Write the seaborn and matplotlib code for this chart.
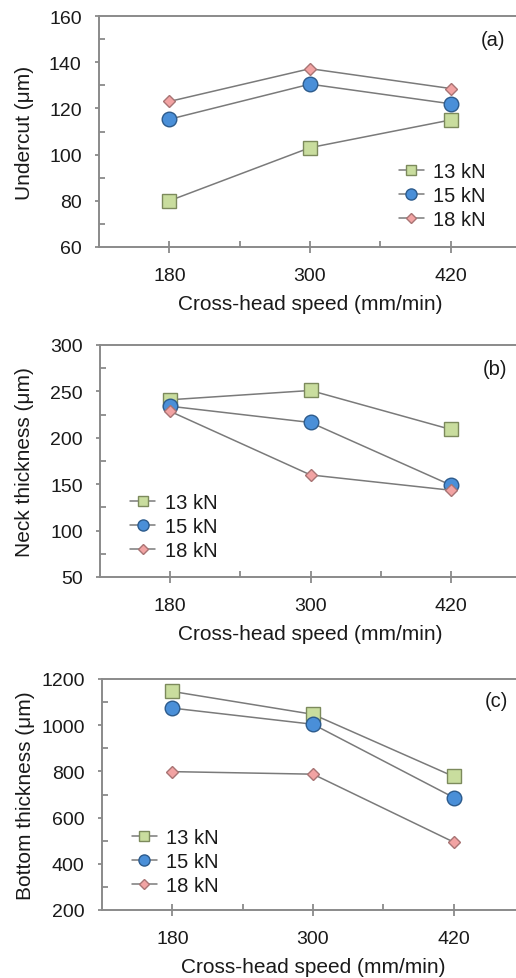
import numpy as np
import pandas as pd
import matplotlib
matplotlib.use("Agg")
import matplotlib.pyplot as plt
from matplotlib.ticker import MultipleLocator, FixedLocator
import seaborn as sns

sns.set_style("white")
plt.rcParams['font.family'] = ['Liberation Sans', 'DejaVu Sans']

speeds = [180, 300, 420]
loads = ["13 kN", "15 kN", "18 kN"]

undercut_13 = [80, 103, 115]
undercut_15 = [115.3, 130.5, 122]
undercut_18 = [123, 137.2, 128.6]

neck_13 = [241, 251, 209]
neck_15 = [234, 216.5, 149]
neck_18 = [228.5, 160, 143.5]

bottom_13 = [1146, 1047, 778]
bottom_15 = [1074, 1004, 687]
bottom_18 = [799, 788, 494]

ylabels = ["Undercut (\u03bcm)", "Neck thickness (\u03bcm)", "Bottom thickness (\u03bcm)"]
panel_tags = ["(a)", "(b)", "(c)"]
xlabel = "Cross-head speed (mm/min)"

panels = [
    [undercut_13, undercut_15, undercut_18],
    [neck_13, neck_15, neck_18],
    [bottom_13, bottom_15, bottom_18],
]

W, H = 516, 979
fig = plt.figure(figsize=(W / 100, H / 100), dpi=100)

# axes pixel boxes: left, top, right, bottom
boxes = [(99, 17, 521, 248), (100, 346, 521, 578), (102, 680, 524, 911)]
ylims = [(60, 160), (50, 300), (200, 1200)]
ymaj = [20, 50, 200]
legend_pos = [(0.71, 0.368), (0.072, 0.363), (0.07, 0.355)]
tag_pos = [(0.934, 0.90), (0.938, 0.90), (0.934, 0.905)]
ylabel_x = [-0.154, -0.157, -0.159]

styles = {
    "13 kN": dict(marker="s", mfc="#c9dd9e", mec="#7c8a5c", ms=10.5, lms=7),
    "15 kN": dict(marker="o", mfc="#4a8fd8", mec="#2d5b8c", ms=10.5, lms=8),
    "18 kN": dict(marker="D", mfc="#f2a3a3", mec="#a87474", ms=6.2, lms=4.6),
}

spine_c = "#8a8a8a"
text_c = "#1a1a1a"
fs = 14

for i, (vals, box) in enumerate(zip(panels, boxes)):
    l, t, r, b = box
    ax = fig.add_axes([l / W, 1 - b / H, (r - l) / W, (b - t) / H])
    df = pd.DataFrame({
        "speed": np.tile(speeds, 3),
        "value": np.concatenate(vals),
        "load": np.repeat(loads, 3),
    })
    for ld in loads:
        sub = df[df["load"] == ld]
        st = styles[ld]
        sns.lineplot(data=sub, x="speed", y="value", ax=ax, color="#7a7a7a",
                     lw=1.1, marker=st["marker"], markersize=st["ms"],
                     markerfacecolor=st["mfc"], markeredgecolor=st["mec"],
                     markeredgewidth=1.0, label=ld, zorder=3)
    ax.set_xlim(120, 480)
    ax.set_ylim(*ylims[i])
    ax.xaxis.set_major_locator(FixedLocator(speeds))
    ax.xaxis.set_minor_locator(FixedLocator([240, 360]))
    ax.yaxis.set_major_locator(MultipleLocator(ymaj[i]))
    ax.yaxis.set_minor_locator(MultipleLocator(ymaj[i] / 2))
    ax.tick_params(axis="x", which="major", direction="inout", length=8, width=1.3,
                   color=spine_c, labelsize=fs, pad=10.5, bottom=True, labelcolor=text_c)
    ax.tick_params(axis="x", which="minor", direction="in", length=4.5, width=1.3,
                   color=spine_c, bottom=True)
    ax.tick_params(axis="y", which="major", direction="out", length=3, width=1.3,
                   color=spine_c, labelsize=fs, pad=9.5, left=True, labelcolor=text_c)
    ax.tick_params(axis="y", which="minor", direction="in", length=4.5, width=1.3,
                   color=spine_c, left=True)
    for s in ["left", "bottom", "top"]:
        ax.spines[s].set_visible(True)
        ax.spines[s].set_color(spine_c)
        ax.spines[s].set_linewidth(1.4)
    ax.spines["right"].set_visible(False)
    ax.set_xlabel(xlabel, fontsize=15, labelpad=7, color=text_c)
    ax.set_ylabel(ylabels[i], fontsize=15, color=text_c)
    ax.yaxis.set_label_coords(ylabel_x[i], 0.5)
    ax.text(tag_pos[i][0], tag_pos[i][1], panel_tags[i], transform=ax.transAxes,
            fontsize=14.5, ha="center", va="center", color=text_c)
    leg = ax.legend(loc="upper left", bbox_to_anchor=legend_pos[i], frameon=False,
                    fontsize=14.5, handlelength=1.25, handletextpad=0.45,
                    labelspacing=0.25, borderaxespad=0, borderpad=0)
    for txt in leg.get_texts():
        txt.set_color(text_c)
    for h, ld in zip(leg.legend_handles, loads):
        h.set_markersize(styles[ld]["lms"])

fig.savefig("out.png", dpi=100)
